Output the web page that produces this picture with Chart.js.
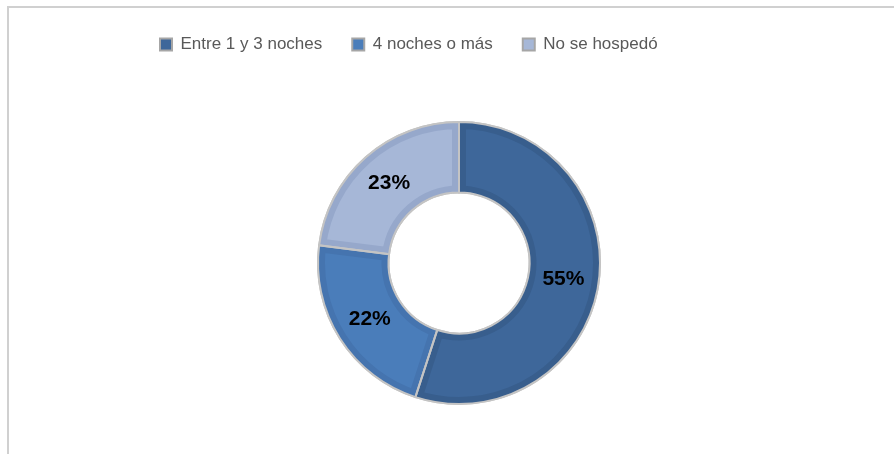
<!DOCTYPE html>
<html>
<head>
<meta charset="utf-8">
<script src="https://cdn.jsdelivr.net/npm/chart.js@4.4.1/dist/chart.umd.min.js"></script>
<style>
    body { margin: 0; background: #ffffff; }
    #frame {
        position: absolute; left: 7px; top: 6px; width: 1000px; height: 600px;
        border-left: 2px solid #d0d0d0; border-top: 2px solid #d0d0d0;
    }
    #wrap { position: absolute; left: 0; top: 0; width: 894px; height: 454px; }
</style>
</head>
<body>
<div id="frame"></div>
<div id="wrap"><canvas id="myChart"></canvas></div>
<script>
// Chart data
const categories = ['Entre 1 y 3 noches', '4 noches o más', 'No se hospedó'];
const percentages = [55, 22, 23];
const sliceColors = ['#3E679A', '#4A7DBA', '#A6B7D7'];
const edgeColors = ['#385E8D', '#4574AF', '#96A8CB'];

// Arc path of a slice element
function arcPath(ctx, arc) {
    const p = arc.getProps(['x', 'y', 'startAngle', 'endAngle', 'innerRadius', 'outerRadius']);
    ctx.beginPath();
    ctx.arc(p.x, p.y, p.outerRadius, p.startAngle, p.endAngle);
    ctx.arc(p.x, p.y, p.innerRadius, p.endAngle, p.startAngle, true);
    ctx.closePath();
}

// Darker inner edge on each slice, then the percentage labels
const sliceLabels = {
    id: 'sliceLabels',
    afterDatasetsDraw(chart) {
        const ctx = chart.ctx;
        const meta = chart.getDatasetMeta(0);
        ctx.save();
        meta.data.forEach((arc, i) => {
            ctx.save();
            arcPath(ctx, arc);
            ctx.clip();
            ctx.lineWidth = 14;
            ctx.strokeStyle = edgeColors[i];
            ctx.stroke();
            ctx.restore();
        });
        meta.data.forEach(arc => {
            arcPath(ctx, arc);
            ctx.lineWidth = 2;
            ctx.strokeStyle = '#c4c4c4';
            ctx.stroke();
        });
        ctx.font = 'bold 21px "Liberation Sans", Arial, sans-serif';
        ctx.fillStyle = '#000000';
        ctx.textAlign = 'center';
        ctx.textBaseline = 'middle';
        meta.data.forEach((arc, i) => {
            const pos = arc.tooltipPosition();
            ctx.fillText(percentages[i] + '%', pos.x, pos.y);
        });
        ctx.restore();
    }
};

// Make room between the legend and the doughnut
const legendGap = {
    id: 'legendGap',
    beforeInit(chart) {
        const fit = chart.legend.fit;
        chart.legend.fit = function () {
            fit.bind(chart.legend)();
            this.height = 115;
        };
    }
};

const ctx = document.getElementById('myChart').getContext('2d');
new Chart(ctx, {
    type: 'doughnut',
    data: {
        labels: categories,
        datasets: [{
            data: percentages,
            backgroundColor: sliceColors,
            borderColor: '#c4c4c4',
            borderWidth: 2
        }]
    },
    options: {
        responsive: true,
        maintainAspectRatio: false,
        animation: false,
        cutout: '50%',
        layout: {
            padding: { top: 6, left: 130, right: 106, bottom: 49 }
        },
        plugins: {
            legend: {
                display: true,
                position: 'top',
                align: 'start',
                labels: {
                    color: '#595959',
                    font: { family: '"Liberation Sans", Arial, sans-serif', size: 17 },
                    boxWidth: 12,
                    boxHeight: 12,
                    padding: 30,
                    generateLabels(chart) {
                        return categories.map((label, i) => ({
                            text: label,
                            fillStyle: sliceColors[i],
                            strokeStyle: '#a6a6a6',
                            lineWidth: 2,
                            fontColor: '#595959',
                            index: i,
                            hidden: false
                        }));
                    }
                }
            },
            tooltip: { enabled: false }
        }
    },
    plugins: [sliceLabels, legendGap]
});
</script>
</body>
</html>
